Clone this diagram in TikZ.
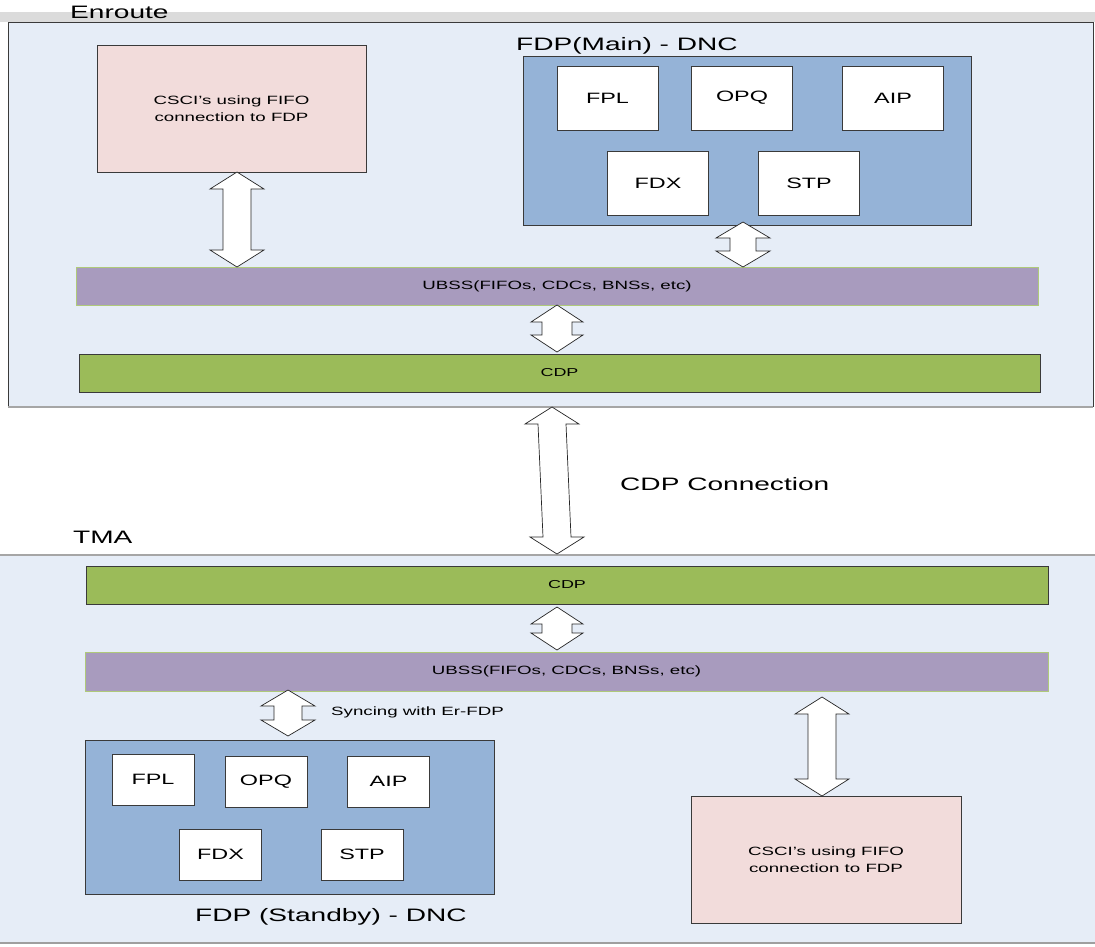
\documentclass[tikz,border=0pt]{standalone}
\usepackage{fontspec}
\setmainfont{Liberation Sans}[FakeStretch=1.56]
\usetikzlibrary{calc}
\definecolor{framebg}{HTML}{E6EDF7}
\definecolor{pinkc}{HTML}{F2DCDB}
\definecolor{purplec}{HTML}{A89BBE}
\definecolor{greenc}{HTML}{9BBB59}
\definecolor{bluec}{HTML}{95B3D7}
\definecolor{edgec}{HTML}{3A3A3A}
\newcommand\blockarrow[5]{%
  \draw[blockarr] let \p1=(#1), \p2=(#2) in
    (\x1,\y1) -- (\x1+#3,\y1-#5) -- (\x1+#4,\y1-#5) -- (\x2+#4,\y2+#5) --
    (\x2+#3,\y2+#5) -- (\x2,\y2) -- (\x2-#3,\y2+#5) -- (\x2-#4,\y2+#5) --
    (\x1-#4,\y1-#5) -- (\x1-#3,\y1-#5) -- cycle;}
\tikzset{
  box/.style={draw=edgec, line width=0.7pt, inner sep=0pt, outer sep=0pt, align=center},
  pinkbox/.style={box, fill=pinkc, minimum width=269pt, minimum height=127pt,
    font=\fontsize{12}{17}\selectfont},
  ubssbar/.style={box, draw=greenc!80!white, fill=purplec, minimum width=962pt, minimum height=38pt,
    font=\fontsize{12}{14}\selectfont},
  cdpbar/.style={box, fill=greenc, minimum width=961pt, minimum height=38pt,
    font=\fontsize{11.5}{14}\selectfont},
  fdpbox/.style={box, fill=bluec},
  modbig/.style={box, fill=white, minimum width=101pt, minimum height=64pt,
    font=\fontsize{15}{18}\selectfont},
  modsmall/.style={box, fill=white, minimum width=82pt, minimum height=51pt,
    font=\fontsize{15}{18}\selectfont},
  heading/.style={anchor=base west, inner sep=0pt, font=\fontsize{18}{20}\selectfont},
  smalllbl/.style={anchor=base west, inner sep=0pt, font=\fontsize{12}{14}\selectfont},
  blockarr/.style={fill=white, draw=black!85, line width=0.7pt, line join=miter},
}
\begin{document}
\begin{tikzpicture}[x=1pt,y=-1pt]
\useasboundingbox (0,0) rectangle (1095,946);
\fill[white] (0,0) rectangle (1095,946);
% top band
\fill[gray!28] (0,12) rectangle (1095,22);
% Enroute frame
\fill[framebg] (8,22) rectangle (1093,407);
\draw[edgec, line width=0.8pt] (8,407) -- (8,22) -- (1093,22) -- (1093,407);
\draw[gray!70, line width=1.2pt] (8,407) -- (1093,407);
\node[heading] (enroute) at (70,18) {Enroute};
% TMA frame
\fill[framebg] (0,555) rectangle (1095,943);
\draw[gray!70, line width=1.2pt] (0,555) -- (1095,555);
\draw[gray!75, line width=2pt] (0,943) -- (1095,943);
\node[heading] (tma) at (73,543) {TMA};

% ---- Enroute content
\node[pinkbox] (csciT) at (231.5,108.5) {CSCI's using FIFO\\connection to FDP};
\node[fdpbox, minimum width=448pt, minimum height=169pt] (fdpM) at (747,140.5) {};
\node[heading] (fdpMlbl) at (516,50) {FDP(Main) - DNC};
\node[modbig] (fplT) at (607.5,98) {FPL};
\node[modbig] (opqT) at (742,98) {OPQ};
\node[modbig] (aipT) at (893,98) {AIP};
\node[modbig] (fdxT) at (658,183) {FDX};
\node[modbig] (stpT) at (809,183) {STP};
\node[ubssbar] (ubssT) at (557,286) {UBSS(FIFOs, CDCs, BNSs, etc)};
\node[cdpbar] (cdpT) at (559.5,373) {CDP};

% ---- TMA content
\node[cdpbar, minimum width=962pt] (cdpB) at (567,585) {CDP};
\node[ubssbar, minimum width=963pt, minimum height=39pt] (ubssB) at (566.5,671.5) {UBSS(FIFOs, CDCs, BNSs, etc)};
\node[fdpbox, minimum width=409.5pt, minimum height=154pt] (fdpS) at (289.75,817) {};
\node[modsmall] (fplB) at (153,779.5) {FPL};
\node[modsmall] (opqB) at (266,781.5) {OPQ};
\node[modsmall] (aipB) at (388.5,781.5) {AIP};
\node[modsmall] (fdxB) at (220.5,854.5) {FDX};
\node[modsmall] (stpB) at (362,854.5) {STP};
\node[heading] (fdpSlbl) at (195,921.7) {FDP (Standby) - DNC};
\node[pinkbox, minimum width=270pt] (csciB) at (826,859.5) {CSCI's using FIFO\\connection to FDP};

% ---- connector end points
\coordinate (a1t) at (237,0 |- csciT.south);
\coordinate (a1b) at (237,0 |- ubssT.north);
\coordinate (a2t) at (557,0 |- ubssT.south);
\coordinate (a2b) at (557,352);
\coordinate (a3t) at (743,222);
\coordinate (a3b) at (743,0 |- ubssT.north);
\coordinate (a4t) at (552,407);
\coordinate (a4b) at (557,554);
\coordinate (a5t) at (557,607);
\coordinate (a5b) at (557,650);
\coordinate (a6t) at (288,690);
\coordinate (a6b) at (288,736);
\coordinate (a7t) at (822,697);
\coordinate (a7b) at (822,0 |- csciB.north);

\blockarrow{a1t}{a1b}{27pt}{14pt}{17pt}
\blockarrow{a2t}{a2b}{26pt}{15pt}{17pt}
\blockarrow{a3t}{a3b}{27pt}{13pt}{16pt}
\blockarrow{a4t}{a4b}{27pt}{14pt}{17pt}
\blockarrow{a5t}{a5b}{26pt}{15pt}{17pt}
\blockarrow{a6t}{a6b}{27pt}{14pt}{16pt}
\blockarrow{a7t}{a7b}{27pt}{14pt}{17pt}

\node[heading] (cdpconn) at (620,490.7) {CDP Connection};
\node[smalllbl] (synclbl) at (331,715) {Syncing with Er-FDP};
\end{tikzpicture}
\end{document}
